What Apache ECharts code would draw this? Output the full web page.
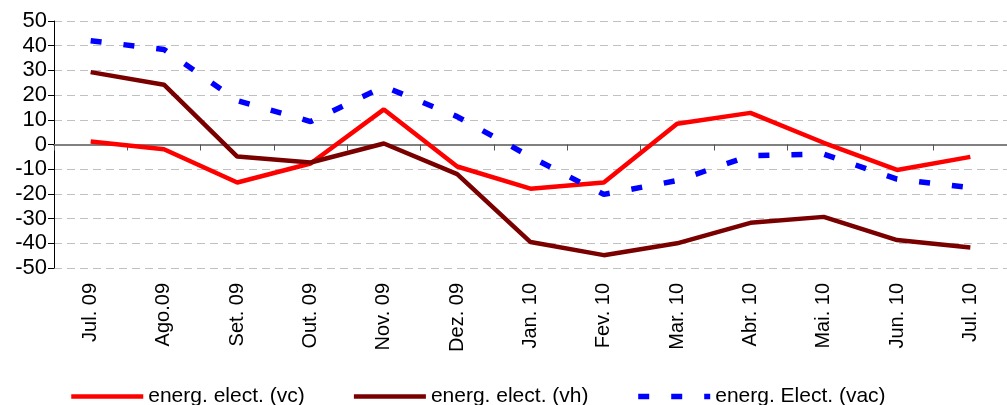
<!DOCTYPE html>
<html>
<head>
<meta charset="utf-8">
<script src="https://cdn.jsdelivr.net/npm/echarts@6/dist/echarts.min.js"></script>
<style>
  html, body { margin: 0; padding: 0; background: #fff; }
  #chart { width: 1007px; height: 405px; }
</style>
</head>
<body>
<div id="chart"></div>
<script>
// 月份
const months = ["Jul. 09", "Ago.09", "Set. 09", "Out. 09", "Nov. 09", "Dez. 09", "Jan. 10",
  "Fev. 10", "Mar. 10", "Abr. 10", "Mai. 10", "Jun. 10", "Jul. 10"];
// energ. elect. (vc)
const vc = [1.2, -1.9, -15.4, -7.7, 14.2, -8.9, -17.9, -15.4, 8.4, 12.8, 0.7, -10.3, -5.0];
// energ. elect. (vh)
const vh = [29.3, 24.2, -4.9, -7.3, 0.4, -12.0, -39.5, -44.8, -40.0, -31.7, -29.3, -38.7, -41.7];
// energ. Elect. (vac)
const vac = [42.0, 38.5, 17.8, 9.3, 23.5, 11.3, -5.0, -20.2, -14.6, -4.5, -3.9, -14.0, -17.5];
const seriesNames = ["energ. elect. (vc)", "energ. elect. (vh)", "energ. Elect. (vac)"];

const chart = echarts.init(document.getElementById("chart"));
const font = "Liberation Sans, Arial, sans-serif";

const option = {
  animation: false,
  grid: { left: 54, right: -9, top: 21, bottom: 137, containLabel: false },
  legend: {
    left: 69,
    top: 386,
    padding: 0,
    itemWidth: 72,
    itemHeight: 4,
    itemGap: 47,
    itemStyle: { color: "rgba(0,0,0,0)", borderWidth: 0 },
    textStyle: { fontFamily: font, fontSize: 21, color: "#000" },
    data: [
      { name: seriesNames[0], lineStyle: { width: 4.5 } },
      { name: seriesNames[1], lineStyle: { width: 4.5 } },
      { name: seriesNames[2], lineStyle: { width: 5.5 } }
    ]
  },
  xAxis: [
    {
      // 底部标签
      type: "category",
      data: months,
      position: "bottom",
      boundaryGap: true,
      axisLine: { show: false, onZero: false },
      axisTick: { show: false },
      axisLabel: {
        rotate: 90,
        margin: 15,
        fontFamily: font,
        fontSize: 20,
        color: "#000",
        interval: 0
      }
    },
    {
      // 零线及刻度
      type: "category",
      data: months,
      position: "bottom",
      boundaryGap: true,
      axisLine: { show: true, onZero: true, lineStyle: { color: "#808080", width: 2 } },
      axisTick: { show: true, inside: false, length: 6, interval: 0, lineStyle: { color: "#555", width: 1 } },
      axisLabel: { show: false }
    }
  ],
  yAxis: {
    type: "value",
    min: -50,
    max: 50,
    interval: 10,
    axisLine: { show: true, lineStyle: { color: "#000", width: 1 } },
    axisTick: { show: true, length: 6, lineStyle: { color: "#000" } },
    axisLabel: { margin: 7, fontFamily: font, fontSize: 22, color: "#000" },
    splitLine: { show: true, lineStyle: { color: "#c0c0c0", type: [8, 5], width: 1 } }
  },
  series: [
    {
      name: seriesNames[0],
      type: "line",
      data: vc,
      symbol: "none",
      lineStyle: { color: "#ff0000", width: 4.5 },
      itemStyle: { color: "#ff0000" }
    },
    {
      name: seriesNames[1],
      type: "line",
      data: vh,
      symbol: "none",
      lineStyle: { color: "#7a0000", width: 4.5 },
      itemStyle: { color: "#7a0000" }
    },
    {
      name: seriesNames[2],
      type: "line",
      data: vac,
      symbol: "none",
      lineStyle: { color: "#0000ff", width: 5.5, type: [11, 22], cap: "butt" },
      itemStyle: { color: "#0000ff" }
    }
  ]
};
chart.setOption(option);
</script>
</body>
</html>
